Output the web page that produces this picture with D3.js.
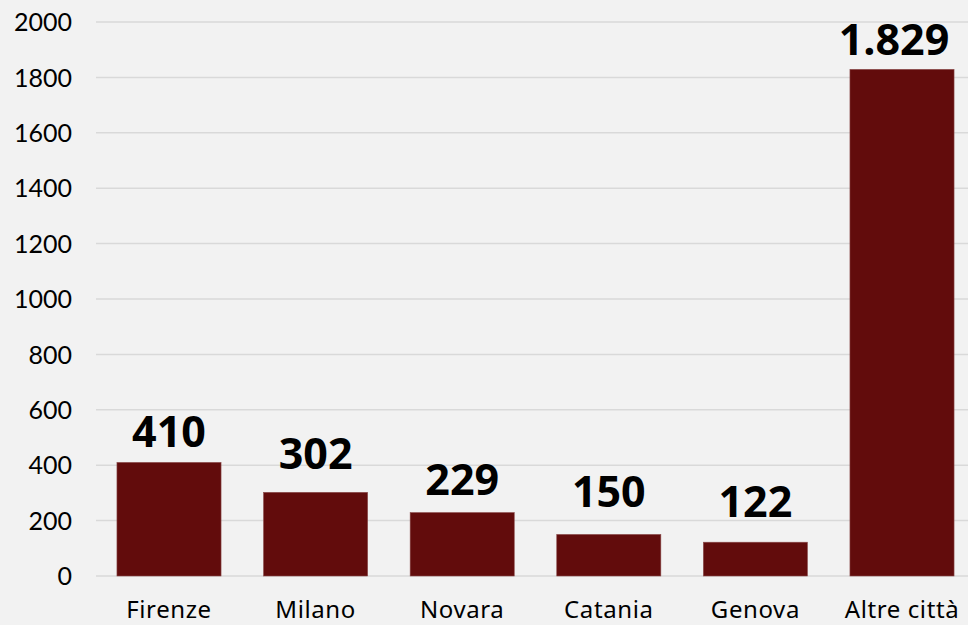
<!DOCTYPE html>
<html>
<head>
<meta charset="utf-8">
<script src="https://cdn.jsdelivr.net/npm/d3@7"></script>
<style>
  html, body { margin: 0; padding: 0; background: #f2f2f2; }
  svg { display: block; }
</style>
</head>
<body>
<svg id="chart" width="968" height="625"></svg>
<script>
// Cities and counts
const categories = ["Firenze", "Milano", "Novara", "Catania", "Genova", "Altre città"];
const values = [410, 302, 229, 150, 122, 1829];
const valueLabels = ["410", "302", "229", "150", "122", "1.829"];
const yTicks = [0, 200, 400, 600, 800, 1000, 1200, 1400, 1600, 1800, 2000];

// Value label placement: gap (px) above the bar top, and horizontal nudge
const labelGap = [15, 23, 18, 27, 25, 14];
const labelDx = [0, 0, 0, 0, 0, -8];

const svg = d3.select("#chart");
const W = 968, H = 625;

svg.append("rect").attr("width", W).attr("height", H).attr("fill", "#f2f2f2");

const y = d3.scaleLinear().domain([0, 2000]).range([576, 22]);
const x = d3.scaleBand()
  .domain(categories)
  .range([95.7, 975.3])
  .paddingInner(0.29)
  .paddingOuter(0.145);

// Horizontal gridlines
svg.append("g")
  .selectAll("line")
  .data(yTicks)
  .join("line")
  .attr("x1", 96)
  .attr("x2", W)
  .attr("y1", d => y(d))
  .attr("y2", d => y(d))
  .attr("stroke", "#d9d9d9")
  .attr("stroke-width", 1.5);

// Y axis labels
const yAxis = d3.axisLeft(y).tickValues(yTicks).tickSize(0).tickPadding(0).tickFormat(d3.format("d"));
svg.append("g")
  .attr("transform", "translate(72,0)")
  .call(yAxis)
  .call(g => g.select(".domain").remove())
  .call(g => g.selectAll("text")
    .attr("font-family", "Lato, 'Noto Sans', sans-serif")
    .attr("font-size", 25)
    .attr("fill", "#000")
    .attr("dy", "0.35em"));

// Bars
svg.append("g")
  .selectAll("rect")
  .data(categories)
  .join("rect")
  .attr("x", d => x(d))
  .attr("width", x.bandwidth())
  .attr("y", (d, i) => y(values[i]))
  .attr("height", (d, i) => y(0) - y(values[i]))
  .attr("fill", "#620c0c")
  .attr("stroke", "#8a4a4a")
  .attr("stroke-width", 0.6);

// Value labels
svg.append("g")
  .selectAll("text")
  .data(categories)
  .join("text")
  .attr("x", (d, i) => x(d) + x.bandwidth() / 2 + labelDx[i])
  .attr("y", (d, i) => y(values[i]) - labelGap[i])
  .attr("text-anchor", "middle")
  .attr("font-family", "'Open Sans', sans-serif")
  .attr("font-weight", 700)
  .attr("font-size", 43)
  .attr("fill", "#000")
  .text((d, i) => valueLabels[i]);

// Category axis
const xAxis = d3.axisBottom(x).tickSize(0).tickPadding(0);
svg.append("g")
  .attr("transform", "translate(0,618)")
  .call(xAxis)
  .call(g => g.select(".domain").remove())
  .call(g => g.selectAll("text")
    .attr("font-family", "'Noto Sans', sans-serif")
    .attr("font-size", 24)
    .attr("letter-spacing", 0.6)
    .attr("fill", "#000")
    .attr("y", 0)
    .attr("dy", 0));
</script>
</body>
</html>
